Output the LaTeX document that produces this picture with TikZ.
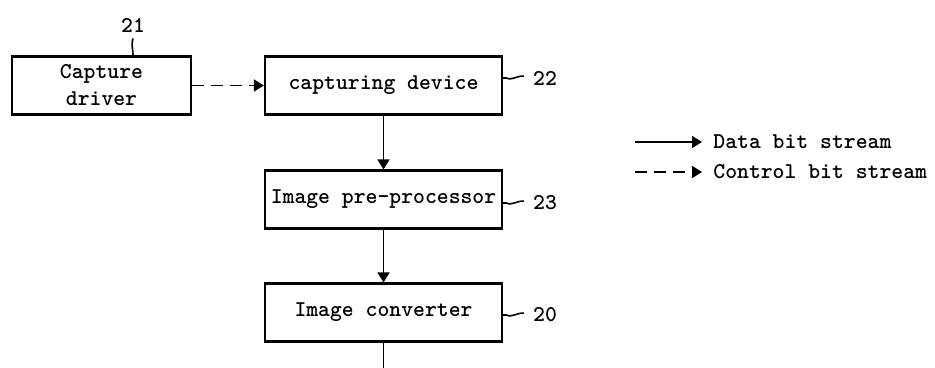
\documentclass[tikz,border=0pt]{standalone}
\usepackage{fontspec}
\usetikzlibrary{arrows.meta}

\begin{document}
\begin{tikzpicture}[x = 0.5pt, y = -0.5pt,
    every node/.style = {font = \ttfamily\bfseries\fontsize{11.3}{13.5}\selectfont},
    blk/.style = {draw, line width = 1.1pt, inner sep = 0pt, minimum height = 29pt, minimum width = 118.5pt, align = center},
    data/.style = {line width = .8pt, -{Triangle[length = 5pt, width = 6pt]}},
    ctrl/.style = {data, dash pattern = on 6pt off 3.5pt},
    lbl/.style = {inner sep = 0pt},
    lead/.style = {line width = .8pt}]

            \useasboundingbox (0,0) rectangle (935,368);

            \node [blk, minimum width = 89.5pt] (drv) at (101.5,85.5) {Capture\\driver};
            \node [blk] (cap) at (383.5,85.5) {capturing device};
            \node [blk] (pre) at (383.5,199.5) {Image pre-processor};
            \node [blk] (conv) at (383.5,312.5) {Image converter};
            \coordinate (out) at (383.5,368);

            \draw [ctrl] (drv) -- (cap);
            \draw [data] (cap) -- (pre);
            \draw [data] (pre) -- (conv);
            \draw [line width = .8pt] (conv) -- (out);

            \node [lbl] (l21) at (133,25) {21};
            \draw [lead] ([yshift = -3pt]l21.south) .. controls +(-2,8) and +(0,-8) .. (l21.south |- drv.north);
            \foreach \n/\b/\y in {22/cap/78, 23/pre/203, 20/conv/315} {
              \node [lbl] (l\n) at (545,\y) {\n};
              \draw [lead] ([xshift = -1pt]\b.east |- l\n) -- ++(5,0) .. controls +(5,3) and +(-8,0) .. ([xshift = -4.5pt, yshift = 1pt]l\n.west);
            }

            \coordinate (d1) at (635,142);
            \coordinate (c1) at (635,172);
            \node [anchor = west, inner xsep = 5.5pt] (dtxt) at (702,142) {Data bit stream};
            \node [anchor = west, inner xsep = 5.5pt] (ctxt) at (702,172) {Control bit stream};
            \draw [data] (d1) -- (dtxt.west);
            \draw [ctrl] (c1) -- (ctxt.west);
            \end{tikzpicture}
\end{document}
